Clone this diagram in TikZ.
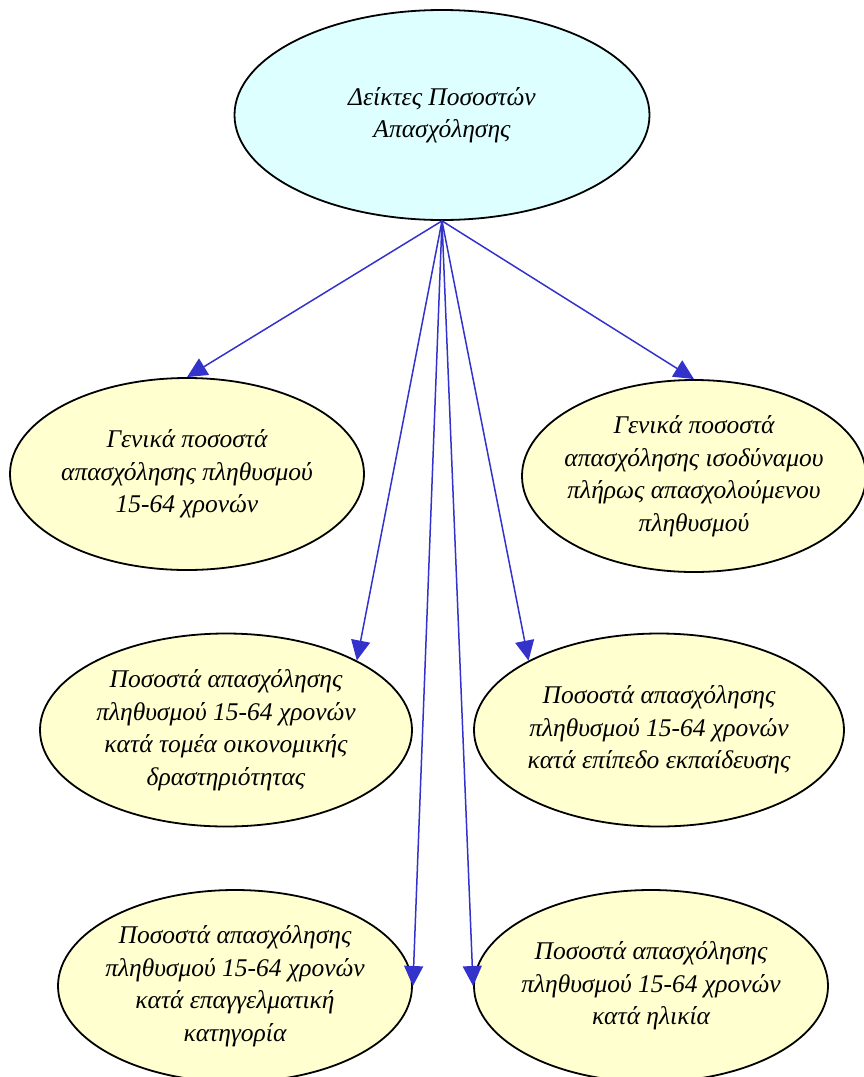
\documentclass[tikz,border=0pt]{standalone}
\usepackage{fontspec}
\setmainfont{Liberation Serif}
\usetikzlibrary{shapes.geometric}
\usetikzlibrary{arrows.meta}
\definecolor{topfill}{RGB}{221,255,255}
\definecolor{leaffill}{RGB}{255,255,208}
\definecolor{linkblue}{RGB}{51,51,204}
\tikzset{
  topic/.style={ellipse, draw=black, line width=1.8pt, fill=topfill,
    inner xsep=-25pt, inner ysep=0pt,
    align=center, font=\fontsize{25.5}{32.5}\selectfont\itshape},
  leaf/.style={topic, fill=leaffill, minimum width=354pt, minimum height=192pt},
  link/.style={draw=linkblue, line width=1.5pt, -{Triangle[length=20pt,width=19pt]}}
}
\begin{document}
\begin{tikzpicture}[x=1pt, y=-1pt]
\useasboundingbox (0,0) rectangle (864,1077);

\node[topic, minimum width=415pt, minimum height=210pt] (top) at (442,115)
  {Δείκτες Ποσοστών\\Απασχόλησης};

\node[leaf] (general) at (187,474)
  {Γενικά ποσοστά\\απασχόλησης πληθυσμού\\15-64 χρονών};
\node[leaf, minimum width=344pt] (equiv) at (694,476)
  {Γενικά ποσοστά\\απασχόλησης ισοδύναμου\\πλήρως απασχολούμενου\\πληθυσμού};

\node[leaf, minimum width=372pt, minimum height=193pt] (sector) at (226,730)
  {Ποσοστά απασχόλησης\\πληθυσμού 15-64 χρονών\\κατά τομέα οικονομικής\\δραστηριότητας};
\node[leaf, minimum width=370pt, minimum height=193pt] (educ) at (659,730)
  {Ποσοστά απασχόλησης\\πληθυσμού 15-64 χρονών\\κατά επίπεδο εκπαίδευσης};

\node[leaf] (occup) at (235,986)
  {Ποσοστά απασχόλησης\\πληθυσμού 15-64 χρονών\\κατά επαγγελματική\\κατηγορία};
\node[leaf] (age) at (651,986)
  {Ποσοστά απασχόλησης\\πληθυσμού 15-64 χρονών\\κατά ηλικία};

% links from the root
\draw[link] (top.south) -- (general.north);
\draw[link] (top.south) -- (equiv.north);
\draw[link] (top.south) -- (sector.28);
\draw[link] (top.south) -- (educ.152);
\draw[link] (top.south) -- (occup.east);
\draw[link] (top.south) -- (age.west);

\end{tikzpicture}
\end{document}
